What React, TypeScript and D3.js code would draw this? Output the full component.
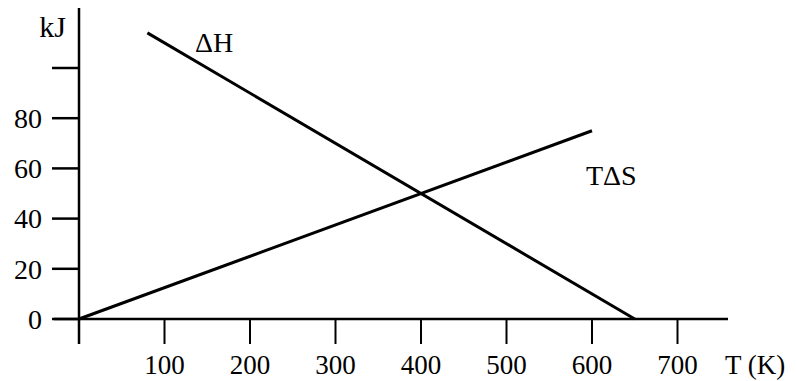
import React from "react";
import * as d3 from "d3";

// values
const xTicks = [0, 100, 200, 300, 400, 500, 600, 700];
const xTickLabels = ["", "100", "200", "300", "400", "500", "600", "700"];
const yTicks = [0, 20, 40, 60, 80, 100];
const yTickLabels = ["0", "20", "40", "60", "80", ""];
const dhTemps = [80, 650];
const dhValues = [114, 0];
const tdsTemps = [0, 600];
const tdsValues = [0, 75];

const W = 797;
const H = 381;
const FONT = "'Liberation Serif', 'Times New Roman', serif";

const App = () => {
  // T=0 at x=79, 100 K per 85.5 px; 0 kJ at y=319, 20 kJ per 50.2 px
  const x = d3.scaleLinear().domain([0, 700]).range([79, 677.5]);
  const y = d3.scaleLinear().domain([0, 100]).range([319, 68]);

  const line = d3
    .line<[number, number]>()
    .x((d) => x(d[0]))
    .y((d) => y(d[1]));

  const dh = dhTemps.map((t, i) => [t, dhValues[i]] as [number, number]);
  const tds = tdsTemps.map((t, i) => [t, tdsValues[i]] as [number, number]);

  const axisLeft = x(0);
  const axisBottom = y(0);

  return (
    <svg
      width={W}
      height={H}
      style={{ position: "absolute", left: 0, top: 0, background: "#fff" }}
      fontFamily={FONT}
    >
      <rect width={W} height={H} fill="#fff" />

      {/* axes */}
      <line x1={axisLeft} x2={axisLeft} y1={8} y2={344} stroke="#000" strokeWidth={2.5} />
      <line x1={54} x2={728} y1={axisBottom} y2={axisBottom} stroke="#000" strokeWidth={2.5} />

      {/* y ticks */}
      {yTicks.map((v, i) => (
        <g key={"y" + v}>
          <line x1={axisLeft - 27} x2={axisLeft} y1={y(v)} y2={y(v)} stroke="#000" strokeWidth={2.5} />
          <text x={42} y={y(v)} dy="0.35em" textAnchor="end" fontSize={28} fill="#000">
            {yTickLabels[i]}
          </text>
        </g>
      ))}

      {/* x ticks */}
      {xTicks.map((v, i) => (
        <g key={"x" + v}>
          <line x1={x(v)} x2={x(v)} y1={axisBottom} y2={axisBottom + 25} stroke="#000" strokeWidth={2} />
          <text x={x(v)} y={374} textAnchor="middle" fontSize={27} fill="#000">
            {xTickLabels[i]}
          </text>
        </g>
      ))}

      {/* series */}
      <path d={line(dh) ?? ""} fill="none" stroke="#000" strokeWidth={3} />
      <path d={line(tds) ?? ""} fill="none" stroke="#000" strokeWidth={3} />

      {/* labels */}
      <text x={66} y={37} textAnchor="end" fontSize={30} fill="#000">kJ</text>
      <text x={195} y={52} fontSize={28} fill="#000">ΔH</text>
      <text x={586} y={185} fontSize={28} fill="#000">TΔS</text>
      <text x={725} y={374} fontSize={27} fill="#000">T (K)</text>
    </svg>
  );
};

export default App;
